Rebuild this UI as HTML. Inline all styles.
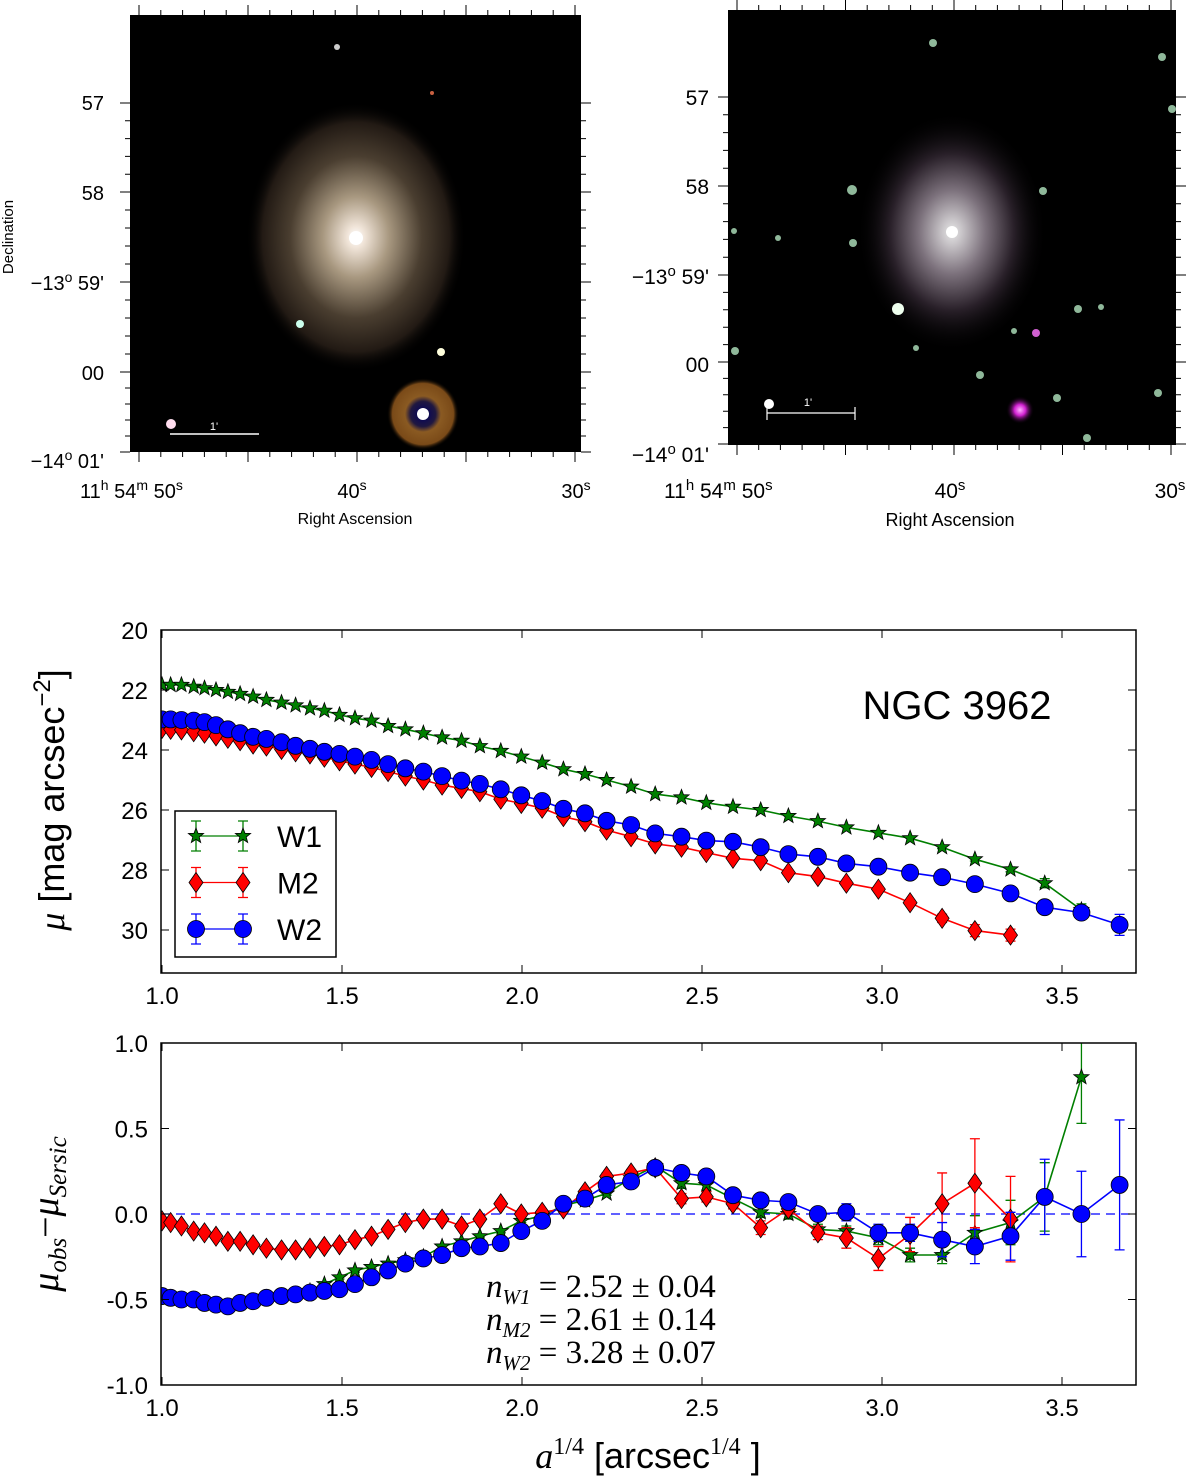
<!DOCTYPE html>
<html><head><meta charset="utf-8"><style>
body{margin:0;background:#fff}
svg{display:block}
text{font-family:"Liberation Sans","DejaVu Sans",sans-serif}
.serif{font-family:"Liberation Serif","DejaVu Serif",serif}
</style></head><body>
<svg id="fig" width="1200" height="1482" viewBox="0 0 1200 1482" xmlns="http://www.w3.org/2000/svg">
<defs>
<radialGradient id="galL" cx="50%" cy="50%" r="50%">
<stop offset="0" stop-color="#fff"/><stop offset="0.08" stop-color="#f0e4d8"/><stop offset="0.3" stop-color="#a89880"/><stop offset="0.6" stop-color="#4a3e30"/><stop offset="0.85" stop-color="#221a14"/><stop offset="1" stop-color="#000" stop-opacity="0"/>
</radialGradient>
<radialGradient id="galR" cx="50%" cy="50%" r="50%">
<stop offset="0" stop-color="#fff"/><stop offset="0.1" stop-color="#e0dce0"/><stop offset="0.35" stop-color="#8a7e8a"/><stop offset="0.65" stop-color="#2e242e"/><stop offset="1" stop-color="#000" stop-opacity="0"/>
</radialGradient>
<radialGradient id="ring" cx="50%" cy="50%" r="50%">
<stop offset="0" stop-color="#000060"/><stop offset="0.35" stop-color="#201840"/><stop offset="0.5" stop-color="#8a5a22"/><stop offset="0.85" stop-color="#7a4a18"/><stop offset="1" stop-color="#000" stop-opacity="0"/>
</radialGradient>
<radialGradient id="mag" cx="50%" cy="50%" r="50%">
<stop offset="0" stop-color="#ffb0ff"/><stop offset="0.4" stop-color="#d020d0"/><stop offset="1" stop-color="#000" stop-opacity="0"/>
</radialGradient>
<clipPath id="clipTop"><rect x="161" y="630" width="975" height="343"/></clipPath>
<clipPath id="clipBot"><rect x="161" y="1043" width="975" height="342"/></clipPath>
</defs>

<!-- Left image -->
<g>
<rect x="130" y="15" width="451" height="437" fill="#000"/>
<ellipse cx="356" cy="237" rx="110" ry="135" fill="url(#galL)"/>
<circle cx="356" cy="238" r="7" fill="#fff"/>
<circle cx="337" cy="47" r="3" fill="#ccc"/>
<circle cx="432" cy="93" r="2" fill="#c86040"/>
<circle cx="300" cy="324" r="4" fill="#cfe"/>
<circle cx="441" cy="352" r="4" fill="#ffd"/>
<circle cx="171" cy="424" r="5" fill="#fde"/>
<circle cx="423" cy="414" r="36" fill="url(#ring)"/>
<circle cx="423" cy="414" r="6" fill="#fff"/>
<line x1="170" y1="434" x2="259" y2="434" stroke="#fff" stroke-width="1.5"/>
<text x="214" y="430" fill="#fff" font-size="11" text-anchor="middle">1'</text>
</g>
<g id="leftTicks" stroke="#000" stroke-width="1"></g>
<g font-size="20" fill="#000">
<text x="104" y="110" text-anchor="end">57</text>
<text x="104" y="200" text-anchor="end">58</text>
<text x="104" y="290" text-anchor="end">−13<tspan dy="-8" font-size="14">o</tspan><tspan dy="8"> 59'</tspan></text>
<text x="104" y="380" text-anchor="end">00</text>
<text x="104" y="468" text-anchor="end">−14<tspan dy="-8" font-size="14">o</tspan><tspan dy="8"> 01'</tspan></text>
<text x="80" y="498">11<tspan dy="-8" font-size="14">h</tspan><tspan dy="8"> 54</tspan><tspan dy="-8" font-size="14">m</tspan><tspan dy="8"> 50</tspan><tspan dy="-8" font-size="14">s</tspan></text>
<text x="352" y="498" text-anchor="middle">40<tspan dy="-8" font-size="14">s</tspan></text>
<text x="576" y="498" text-anchor="middle">30<tspan dy="-8" font-size="14">s</tspan></text>
<text x="355" y="524" font-size="16" text-anchor="middle">Right Ascension</text>
<text transform="translate(13,237) rotate(-90)" font-size="15" text-anchor="middle">Declination</text>
</g>

<!-- Right image -->
<g>
<rect x="728" y="10" width="448" height="435" fill="#000"/>
<ellipse cx="952" cy="232" rx="95" ry="120" fill="url(#galR)" opacity="0.9"/>
<circle cx="952" cy="232" r="6" fill="#fff"/>
<g fill="#8fb89a">
<circle cx="933" cy="43" r="4"/><circle cx="1162" cy="57" r="4"/><circle cx="1172" cy="109" r="4"/><circle cx="852" cy="190" r="5"/><circle cx="1043" cy="191" r="4"/><circle cx="734" cy="231" r="3"/><circle cx="778" cy="238" r="3"/><circle cx="853" cy="243" r="4"/><circle cx="1078" cy="309" r="4"/><circle cx="1101" cy="307" r="3"/><circle cx="735" cy="351" r="4"/><circle cx="980" cy="375" r="4"/><circle cx="1057" cy="398" r="4"/><circle cx="1158" cy="393" r="4"/><circle cx="1087" cy="438" r="4"/><circle cx="916" cy="348" r="3"/><circle cx="1014" cy="331" r="3"/>
</g>
<circle cx="898" cy="309" r="6" fill="#efe"/>
<circle cx="769" cy="404" r="5" fill="#fff"/>
<circle cx="1036" cy="333" r="4" fill="#d060d0"/>
<circle cx="1020" cy="410" r="14" fill="url(#mag)"/>
<g stroke="#fff" stroke-width="1.2"><line x1="767" y1="413" x2="855" y2="413"/><line x1="767" y1="407" x2="767" y2="420"/><line x1="855" y1="407" x2="855" y2="420"/></g>
<text x="808" y="406" fill="#fff" font-size="11" text-anchor="middle">1'</text>
</g>
<g id="rightTicks" stroke="#000" stroke-width="1"></g>
<g font-size="21" fill="#000">
<text x="709" y="105" text-anchor="end">57</text>
<text x="709" y="194" text-anchor="end">58</text>
<text x="709" y="284" text-anchor="end">−13<tspan dy="-8" font-size="15">o</tspan><tspan dy="8"> 59'</tspan></text>
<text x="709" y="372" text-anchor="end">00</text>
<text x="709" y="462" text-anchor="end">−14<tspan dy="-8" font-size="15">o</tspan><tspan dy="8"> 01'</tspan></text>
<text x="664" y="498">11<tspan dy="-8" font-size="15">h</tspan><tspan dy="8"> 54</tspan><tspan dy="-8" font-size="15">m</tspan><tspan dy="8"> 50</tspan><tspan dy="-8" font-size="15">s</tspan></text>
<text x="950" y="498" text-anchor="middle">40<tspan dy="-8" font-size="15">s</tspan></text>
<text x="1170" y="498" text-anchor="middle">30<tspan dy="-8" font-size="15">s</tspan></text>
<text x="950" y="526" font-size="18" text-anchor="middle">Right Ascension</text>
</g>

<g id="topPlot"></g>
<g id="botPlot"></g>
</svg>
<script>
// ===== Data =====
const xVals = [1.0,1.024,1.054,1.088,1.118,1.15,1.183,1.217,1.253,1.29,1.332,1.371,1.411,1.451,1.493,1.536,1.582,1.628,1.676,1.726,1.778,1.832,1.883,1.941,1.998,2.056,2.115,2.175,2.235,2.303,2.37,2.443,2.512,2.586,2.663,2.74,2.822,2.901,2.99,3.078,3.167,3.258,3.357,3.452,3.554,3.66];
const muW1 = [21.83,21.83,21.83,21.89,21.94,22.0,22.06,22.13,22.22,22.33,22.42,22.51,22.61,22.69,22.83,22.94,23.02,23.2,23.31,23.44,23.58,23.69,23.87,24.03,24.22,24.42,24.64,24.8,25.0,25.22,25.47,25.58,25.76,25.89,26.0,26.2,26.37,26.58,26.76,26.94,27.24,27.64,27.98,28.44,29.33];
const muM2 = [23.28,23.31,23.33,23.39,23.44,23.53,23.61,23.69,23.8,23.87,23.98,24.06,24.13,24.24,24.36,24.47,24.58,24.72,24.87,25.0,25.17,25.28,25.39,25.64,25.78,25.94,26.22,26.39,26.67,26.89,27.13,27.24,27.42,27.61,27.69,28.09,28.22,28.44,28.64,29.09,29.61,30.02,30.17];
const muW2 = [22.98,22.98,23.0,23.02,23.07,23.17,23.31,23.44,23.56,23.63,23.74,23.86,23.96,24.06,24.13,24.22,24.33,24.47,24.61,24.72,24.87,25.02,25.13,25.31,25.51,25.7,25.96,26.11,26.36,26.5,26.78,26.89,27.02,27.06,27.24,27.47,27.56,27.78,27.89,28.09,28.24,28.47,28.78,29.24,29.42,29.83];
const errTopW1 = [0.02,0.02,0.02,0.02,0.02,0.02,0.02,0.02,0.02,0.02,0.02,0.02,0.02,0.02,0.02,0.02,0.02,0.02,0.02,0.02,0.02,0.02,0.02,0.02,0.02,0.02,0.02,0.02,0.02,0.02,0.02,0.02,0.02,0.02,0.03,0.03,0.03,0.03,0.04,0.04,0.05,0.06,0.08,0.15,0.2];
const errTopM2 = [0.02,0.02,0.02,0.02,0.02,0.02,0.02,0.02,0.02,0.02,0.02,0.02,0.02,0.02,0.02,0.02,0.02,0.02,0.02,0.02,0.02,0.02,0.02,0.02,0.02,0.02,0.02,0.02,0.02,0.02,0.02,0.03,0.03,0.03,0.04,0.04,0.05,0.06,0.08,0.1,0.14,0.2,0.2];
const errTopW2 = [0.02,0.02,0.02,0.02,0.02,0.02,0.02,0.02,0.02,0.02,0.02,0.02,0.02,0.02,0.02,0.02,0.02,0.02,0.02,0.02,0.02,0.02,0.02,0.02,0.02,0.02,0.02,0.02,0.02,0.02,0.02,0.02,0.02,0.02,0.02,0.03,0.03,0.03,0.03,0.04,0.05,0.05,0.06,0.1,0.2,0.35];
const resW1 = [-0.48,-0.49,-0.5,-0.5,-0.52,-0.53,-0.54,-0.52,-0.51,-0.49,-0.48,-0.47,-0.45,-0.41,-0.37,-0.33,-0.31,-0.29,-0.27,-0.25,-0.19,-0.16,-0.13,-0.1,-0.04,-0.01,0.05,0.08,0.12,0.21,0.28,0.18,0.17,0.09,0.01,0.0,-0.09,-0.1,-0.14,-0.24,-0.24,-0.11,-0.05,0.1,0.8];
const resM2 = [-0.04,-0.05,-0.07,-0.1,-0.11,-0.13,-0.16,-0.16,-0.18,-0.2,-0.21,-0.21,-0.2,-0.19,-0.18,-0.15,-0.13,-0.09,-0.05,-0.03,-0.03,-0.07,-0.03,0.06,0.0,0.01,0.03,0.13,0.22,0.24,0.27,0.09,0.1,0.06,-0.08,0.03,-0.11,-0.14,-0.26,-0.12,0.06,0.18,-0.03];
const resW2 = [-0.48,-0.49,-0.5,-0.5,-0.52,-0.53,-0.54,-0.52,-0.51,-0.49,-0.48,-0.47,-0.46,-0.45,-0.44,-0.41,-0.37,-0.33,-0.29,-0.26,-0.24,-0.2,-0.19,-0.17,-0.1,-0.04,0.06,0.09,0.17,0.19,0.27,0.24,0.22,0.11,0.08,0.07,0.0,0.01,-0.11,-0.11,-0.15,-0.19,-0.13,0.1,0.0,0.17];
const errBotW1 = [0.01,0.01,0.01,0.01,0.01,0.01,0.01,0.01,0.01,0.01,0.01,0.01,0.01,0.01,0.01,0.01,0.01,0.01,0.01,0.01,0.01,0.01,0.01,0.01,0.01,0.01,0.01,0.01,0.01,0.02,0.02,0.03,0.03,0.03,0.03,0.03,0.03,0.03,0.04,0.04,0.05,0.1,0.13,0.2,0.27];
const errBotM2 = [0.01,0.01,0.01,0.01,0.01,0.01,0.01,0.01,0.01,0.01,0.01,0.01,0.01,0.01,0.01,0.01,0.01,0.01,0.01,0.01,0.01,0.01,0.01,0.01,0.01,0.01,0.01,0.01,0.02,0.02,0.02,0.03,0.03,0.03,0.04,0.03,0.04,0.06,0.07,0.1,0.18,0.26,0.25];
const errBotW2 = [0.01,0.01,0.01,0.01,0.01,0.01,0.01,0.01,0.01,0.01,0.01,0.01,0.01,0.01,0.01,0.01,0.01,0.01,0.01,0.01,0.01,0.01,0.01,0.01,0.01,0.01,0.01,0.01,0.02,0.02,0.02,0.03,0.03,0.03,0.04,0.04,0.04,0.05,0.05,0.05,0.1,0.1,0.14,0.22,0.25,0.38];
const xTicks = [1.0,1.5,2.0,2.5,3.0,3.5];
const xTickLabels = ["1.0","1.5","2.0","2.5","3.0","3.5"];
const yTicksTop = [20,22,24,26,28,30];
const yTickLabelsTop = ["20","22","24","26","28","30"];
const yTicksBot = [1.0,0.5,0.0,-0.5,-1.0];
const yTickLabelsBot = ["1.0","0.5","0.0","-0.5","-1.0"];
const seriesNames = ["W1","M2","W2"];

// ===== Scales =====
const X0=161, X1=1136;
const xS = v => 162 + (v-1)*360;
const yT = v => 630 + (v-20)*30;
const yB = v => 1214 - v*171;
const NS="http://www.w3.org/2000/svg";
function mk(tag, attrs, parent){const e=document.createElementNS(NS,tag);for(const k in attrs)e.setAttribute(k,attrs[k]);parent.appendChild(e);return e;}
const colors={W1:"#007f00",M2:"#ff0000",W2:"#0000ff"};

function starPath(cx,cy,R){let d="";const r=R*0.42;for(let i=0;i<10;i++){const a=-Math.PI/2+i*Math.PI/5;const rr=i%2?r:R;d+=(i?"L":"M")+(cx+rr*Math.cos(a)).toFixed(1)+","+(cy+rr*Math.sin(a)).toFixed(1);}return d+"Z";}
function marker(g,kind,cx,cy,name){
  let el;
  if(kind==="W1") el=mk("path",{d:starPath(cx,cy,8),fill:colors.W1,stroke:"#000","stroke-width":0.8},g);
  else if(kind==="M2") el=mk("path",{d:`M${cx},${cy-10}L${cx+7},${cy}L${cx},${cy+10}L${cx-7},${cy}Z`,fill:colors.M2,stroke:"#000","stroke-width":0.8},g);
  else el=mk("circle",{cx:cx,cy:cy,r:8.5,fill:colors.W2,stroke:"#000","stroke-width":0.8},g);
  
  
}
function drawSeries(parent,key,vals,errs,yf,clip){
  const g=mk("g",{"clip-path":clip},parent);
  
  
  const c=colors[key];
  let d="";
  vals.forEach((v,i)=>{d+=(i?"L":"M")+xS(xVals[i]).toFixed(1)+","+yf(v).toFixed(1);});
  const ln=mk("path",{d:d,fill:"none",stroke:c,"stroke-width":1.6},g);
  
  
  vals.forEach((v,i)=>{
    const x=xS(xVals[i]),e=errs[i];
    const y1=yf(v-e),y2=yf(v+e);
    if(Math.abs(y1-y2)>3){
      const eb=mk("path",{d:`M${x},${y1}L${x},${y2}M${x-5},${y1}L${x+5},${y1}M${x-5},${y2}L${x+5},${y2}`,stroke:c,"stroke-width":1.3,fill:"none"},g);
      
      
    }
  });
  vals.forEach((v,i)=>marker(g,key,xS(xVals[i]),yf(v),key.toLowerCase()+'-point'));
}
function axes(parent,top,bot,yTicks,yLabels,yf){
  const fr=mk("rect",{x:X0,y:top,width:X1-X0,height:bot-top,fill:"none",stroke:"#000","stroke-width":1.5},parent);
  
  
  xTicks.forEach((t,i)=>{
    const x=xS(t);
    mk("path",{d:`M${x},${bot}L${x},${bot-8}M${x},${top}L${x},${top+8}`,stroke:"#000","stroke-width":1},parent);
    const tx=mk("text",{x:x,y:bot+31,"font-size":24,"text-anchor":"middle",fill:"#000"},parent);
    tx.textContent=xTickLabels[i];
    
    
  });
  yTicks.forEach((t,i)=>{
    const y=yf(t);
    mk("path",{d:`M${X0},${y}L${X0+8},${y}M${X1},${y}L${X1-8},${y}`,stroke:"#000","stroke-width":1},parent);
    const tx=mk("text",{x:X0-13,y:y+9,"font-size":24,"text-anchor":"end",fill:"#000"},parent);
    tx.textContent=yLabels[i];
    
    
  });
}

// Top plot
const tp=document.getElementById("topPlot");
mk("rect",{x:X0,y:630,width:X1-X0,height:343,fill:"#fff"},tp);
drawSeries(tp,"W1",muW1,errTopW1,yT,"url(#clipTop)");
drawSeries(tp,"M2",muM2,errTopM2,yT,"url(#clipTop)");
drawSeries(tp,"W2",muW2,errTopW2,yT,"url(#clipTop)");
axes(tp,630,973,yTicksTop,yTickLabelsTop,yT);
const ngc=mk("text",{x:957,y:719,"font-size":40,"text-anchor":"middle",fill:"#000"},tp);
ngc.textContent="NGC 3962";


const ylt=mk("text",{transform:"translate(64,800) rotate(-90)","font-size":36,"text-anchor":"middle",fill:"#000"},tp);
ylt.innerHTML='<tspan class="serif" font-style="italic">μ</tspan> [mag arcsec<tspan dy="-14" font-size="24">−2</tspan><tspan dy="14">]</tspan>';


// legend
const lg=mk("g",{},tp);


mk("rect",{x:175,y:811,width:161,height:146,fill:"#fff",stroke:"#000","stroke-width":1.5},lg);
seriesNames.forEach((k,i)=>{
  const y=836+i*46.5, c=colors[k];
  const ent=mk("g",{},lg);
  
  
  mk("path",{d:`M196,${y}L243,${y}M196,${y-15}L196,${y+15}M243,${y-15}L243,${y+15}M191,${y-15}L201,${y-15}M191,${y+15}L201,${y+15}M238,${y-15}L248,${y-15}M238,${y+15}L248,${y+15}`,stroke:c,"stroke-width":1.3,fill:"none"},ent);
  marker(ent,k,196,y,'legend-marker');
  marker(ent,k,243,y,'legend-marker');
  const t=mk("text",{x:277,y:y+11,"font-size":30,fill:"#000"},ent);
  t.textContent=k;
});

// Bottom plot
const bp=document.getElementById("botPlot");
const zl=mk("line",{x1:X0,x2:X1,y1:yB(0),y2:yB(0),stroke:"#0000ff","stroke-width":1.3,"stroke-dasharray":"9,6"},bp);


drawSeries(bp,"W1",resW1,errBotW1,yB,"url(#clipBot)");
drawSeries(bp,"M2",resM2,errBotM2,yB,"url(#clipBot)");
drawSeries(bp,"W2",resW2,errBotW2,yB,"url(#clipBot)");
axes(bp,1043,1385,yTicksBot,yTickLabelsBot,yB);
const ylb=mk("text",{transform:"translate(58,1214) rotate(-90)","font-size":38,"text-anchor":"middle",fill:"#000","class":"serif","font-style":"italic"},bp);
ylb.innerHTML='μ<tspan dy="8" font-size="25">obs</tspan><tspan dy="-8" font-style="normal">−</tspan>μ<tspan dy="8" font-size="25">Sersic</tspan>';


const xl=mk("text",{x:648,y:1468,"font-size":36,"text-anchor":"middle",fill:"#000"},bp);
xl.innerHTML='<tspan class="serif" font-style="italic">a</tspan><tspan dy="-14" font-size="24" class="serif">1/4</tspan><tspan dy="14">  [arcsec</tspan><tspan dy="-14" font-size="24" class="serif">1/4</tspan><tspan dy="14"> ]</tspan>';


const nlabels=[["W1","2.52","0.04"],["M2","2.61","0.14"],["W2","3.28","0.07"]];
nlabels.forEach((n,i)=>{
  const t=mk("text",{x:486,y:1297+i*33,"font-size":33,fill:"#000","class":"serif"},bp);
  t.innerHTML=`<tspan font-style="italic">n</tspan><tspan dy="7" font-size="21" font-style="italic">${n[0]}</tspan><tspan dy="-7"> = ${n[1]} ± ${n[2]}</tspan>`;
  
  
});

// Image tick marks
function imgTicks(id,x0,x1,y0,y1,raMaj,decMaj){
  const g=document.getElementById(id);let d="";
  const step=(raMaj[1]-raMaj[0])/10;
  for(let i=0;i<=20;i++){const x=raMaj[0]+i*step;const L=(i%5===0)?10:5;d+=`M${x},${y0}L${x},${y0-L}M${x},${y1}L${x},${y1+L}`;}
  decMaj.forEach(y=>{d+=`M${x0},${y}L${x0-10},${y}M${x1},${y}L${x1+10},${y}`;});
  for(let i=0;i<decMaj.length-1;i++){for(let k=1;k<5;k++){const y=decMaj[i]+(decMaj[i+1]-decMaj[i])*k/5;d+=`M${x0},${y}L${x0-5},${y}M${x1},${y}L${x1+5},${y}`;}}
  mk("path",{d:d,stroke:"#000","stroke-width":1,fill:"none"},g);
}
imgTicks("leftTicks",130,581,15,452,[139,357,576],[103,192,282,372,452]);
imgTicks("rightTicks",728,1176,10,445,[737,954,1172],[97,186,275,362,444]);
</script>
</body></html>
